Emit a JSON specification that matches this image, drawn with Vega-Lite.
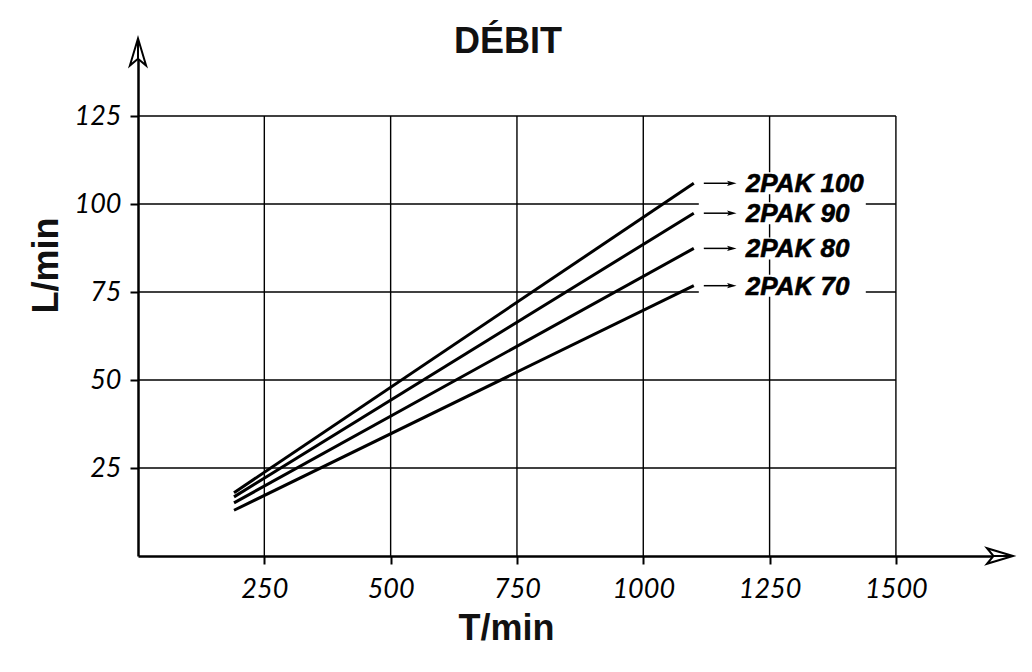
{
  "$schema": "https://vega.github.io/schema/vega-lite/v6.json",
  "width": 862,
  "height": 504,
  "autosize": "none",
  "padding": {"left": 138, "top": 52, "right": 32, "bottom": 116},
  "background": "white",
  "config": {
    "view": {"stroke": null},
    "axis": {
      "domainColor": "black", "domainWidth": 2.5,
      "tickColor": "black", "tickWidth": 2, "tickSize": 8,
      "labelFont": "Lato", "labelFontStyle": "italic", "labelFontWeight": "normal",
      "labelFontSize": 27, "labelColor": "black", "format": "d",
      "labelFlush": false, "labelOverlap": false,
      "titleFont": "Liberation Sans", "titleFontWeight": "bold", "titleFontSize": 36,
      "titleColor": "#111", "grid": false
    },
    "axisX": {"labelBaseline": "alphabetic", "labelPadding": 33,
              "titleX": 368, "titleY": 83, "titleBaseline": "alphabetic", "titleAlign": "center"},
    "axisY": {"labelPadding": 9, "titleAngle": -90, "titleX": -81, "titleY": 213,
              "titleBaseline": "alphabetic", "titleAlign": "center"}
  },
  "title": {
    "text": "DÉBIT", "anchor": "middle", "dx": -61, "offset": -54,
    "baseline": "alphabetic",
    "font": "Liberation Sans", "fontWeight": "bold", "fontSize": 36, "color": "#111"
  },
  "datasets": {
    "curves": [
      {"series": "2PAK 100", "T": 190, "L": 18.0},
      {"series": "2PAK 100", "T": 1100, "L": 105.9},
      {"series": "2PAK 90", "T": 190, "L": 16.8},
      {"series": "2PAK 90", "T": 1100, "L": 97.4},
      {"series": "2PAK 80", "T": 190, "L": 15.1},
      {"series": "2PAK 80", "T": 1100, "L": 87.4},
      {"series": "2PAK 70", "T": 190, "L": 13.0},
      {"series": "2PAK 70", "T": 1100, "L": 76.8}
    ],
    "gridx": [{"T": 250}, {"T": 500}, {"T": 750}, {"T": 1000}, {"T": 1250}, {"T": 1500}],
    "gridy": [{"L": 25}, {"L": 50}, {"L": 75}, {"L": 100}, {"L": 125}]
  },
  "layer": [
    {
      "data": {"name": "gridx"},
      "mark": {"type": "rule", "color": "black", "strokeWidth": 1.4},
      "encoding": {
        "x": {"field": "T", "type": "quantitative",
              "scale": {"domain": [0, 1706], "nice": false, "zero": false},
              "axis": {"values": [250, 500, 750, 1000, 1250, 1500], "title": "T/min"}},
        "y": {"datum": 0, "type": "quantitative",
              "scale": {"domain": [0, 143.2], "nice": false, "zero": false},
              "axis": {"values": [25, 50, 75, 100, 125], "title": "L/min"}},
        "y2": {"datum": 125}
      }
    },
    {
      "data": {"name": "gridy"},
      "mark": {"type": "rule", "color": "black", "strokeWidth": 1.4},
      "encoding": {
        "y": {"field": "L", "type": "quantitative",
              "scale": {"domain": [0, 143.2], "nice": false, "zero": false},
              "axis": {"values": [25, 50, 75, 100, 125], "title": "L/min"}},
        "x": {"datum": 0, "type": "quantitative",
              "scale": {"domain": [0, 1706], "nice": false, "zero": false},
              "axis": {"values": [250, 500, 750, 1000, 1250, 1500], "title": "T/min"}},
        "x2": {"datum": 1500}
      }
    },
    {
      "data": {"name": "curves"},
      "transform": [{"filter": "datum.T == 1100"}],
      "mark": {"type": "rect", "fill": "white", "xOffset": 5, "x2Offset": 172, "yOffset": -11, "y2Offset": 11},
      "encoding": {
        "x": {"field": "T", "type": "quantitative",
              "scale": {"domain": [0, 1706], "nice": false, "zero": false},
              "axis": {"values": [250, 500, 750, 1000, 1250, 1500], "title": "T/min"}},
        "x2": {"field": "T"},
        "y": {"field": "L", "type": "quantitative",
              "scale": {"domain": [0, 143.2], "nice": false, "zero": false},
              "axis": {"values": [25, 50, 75, 100, 125], "title": "L/min"}},
        "y2": {"field": "L"}
      }
    },
    {
      "data": {"name": "curves"},
      "mark": {"type": "line", "color": "black", "strokeWidth": 3},
      "encoding": {
        "x": {"field": "T", "type": "quantitative",
              "scale": {"domain": [0, 1706], "nice": false, "zero": false},
              "axis": {"values": [250, 500, 750, 1000, 1250, 1500], "title": "T/min"}},
        "y": {"field": "L", "type": "quantitative",
              "scale": {"domain": [0, 143.2], "nice": false, "zero": false},
              "axis": {"values": [25, 50, 75, 100, 125], "title": "L/min"}},
        "detail": {"field": "series"}
      }
    },
    {
      "data": {"name": "curves"},
      "transform": [{"filter": "datum.T == 1100"}],
      "mark": {"type": "rule", "color": "black", "strokeWidth": 1.5, "xOffset": 10, "x2Offset": 38},
      "encoding": {
        "x": {"field": "T", "type": "quantitative",
              "scale": {"domain": [0, 1706], "nice": false, "zero": false},
              "axis": {"values": [250, 500, 750, 1000, 1250, 1500], "title": "T/min"}},
        "x2": {"field": "T"},
        "y": {"field": "L", "type": "quantitative",
              "scale": {"domain": [0, 143.2], "nice": false, "zero": false},
              "axis": {"values": [25, 50, 75, 100, 125], "title": "L/min"}}
      }
    },
    {
      "data": {"name": "curves"},
      "transform": [{"filter": "datum.T == 1100"}],
      "mark": {"type": "point", "shape": "M1,0L-1,-0.55L-0.6,0L-1,0.55Z", "filled": true,
               "color": "black", "size": 90, "xOffset": 38, "opacity": 1},
      "encoding": {
        "x": {"field": "T", "type": "quantitative",
              "scale": {"domain": [0, 1706], "nice": false, "zero": false},
              "axis": {"values": [250, 500, 750, 1000, 1250, 1500], "title": "T/min"}},
        "y": {"field": "L", "type": "quantitative",
              "scale": {"domain": [0, 143.2], "nice": false, "zero": false},
              "axis": {"values": [25, 50, 75, 100, 125], "title": "L/min"}}
      }
    },
    {
      "data": {"name": "curves"},
      "transform": [{"filter": "datum.T == 1100"}],
      "mark": {"type": "text", "align": "left", "baseline": "middle", "dx": 52, "dy": 1,
               "font": "Liberation Sans", "fontWeight": "bold", "fontStyle": "italic",
               "fontSize": 26, "color": "black", "stroke": "black", "strokeWidth": 0.6},
      "encoding": {
        "x": {"field": "T", "type": "quantitative",
              "scale": {"domain": [0, 1706], "nice": false, "zero": false},
              "axis": {"values": [250, 500, 750, 1000, 1250, 1500], "title": "T/min"}},
        "y": {"field": "L", "type": "quantitative",
              "scale": {"domain": [0, 143.2], "nice": false, "zero": false},
              "axis": {"values": [25, 50, 75, 100, 125], "title": "L/min"}},
        "text": {"field": "series"}
      }
    },
    {
      "data": {"values": [{"T": 1706, "L": 0}]},
      "mark": {"type": "point", "shape": "M1,0L-1,-0.6L-0.5,0L-1,0.6ZM-0.5,0L1,0", "filled": false,
               "fill": "white", "fillOpacity": 1, "stroke": "black", "strokeWidth": 2,
               "size": 676, "opacity": 1},
      "encoding": {
        "x": {"field": "T", "type": "quantitative",
              "scale": {"domain": [0, 1706], "nice": false, "zero": false},
              "axis": {"values": [250, 500, 750, 1000, 1250, 1500], "title": "T/min"}},
        "y": {"field": "L", "type": "quantitative",
              "scale": {"domain": [0, 143.2], "nice": false, "zero": false},
              "axis": {"values": [25, 50, 75, 100, 125], "title": "L/min"}}
      }
    },
    {
      "data": {"values": [{"T": 0, "L": 143.2}]},
      "mark": {"type": "point", "shape": "M0,-1L-0.6,1L0,0.5L0.6,1ZM0,0.5L0,-1", "filled": false,
               "fill": "white", "fillOpacity": 1, "stroke": "black", "strokeWidth": 2,
               "size": 729, "opacity": 1},
      "encoding": {
        "x": {"field": "T", "type": "quantitative",
              "scale": {"domain": [0, 1706], "nice": false, "zero": false},
              "axis": {"values": [250, 500, 750, 1000, 1250, 1500], "title": "T/min"}},
        "y": {"field": "L", "type": "quantitative",
              "scale": {"domain": [0, 143.2], "nice": false, "zero": false},
              "axis": {"values": [25, 50, 75, 100, 125], "title": "L/min"}}
      }
    }
  ]
}
